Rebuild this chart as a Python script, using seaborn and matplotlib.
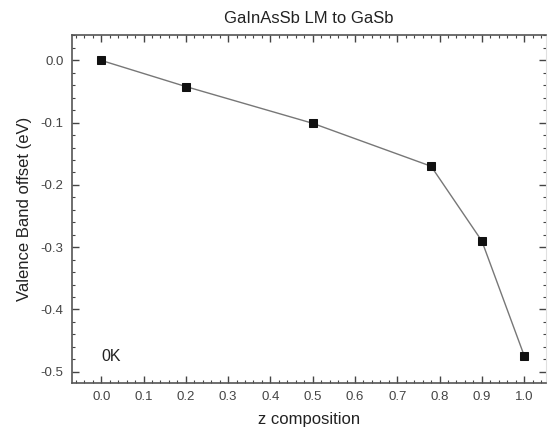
import matplotlib
matplotlib.use("Agg")
import matplotlib.pyplot as plt
import pandas as pd
import seaborn as sns
from matplotlib.ticker import MultipleLocator, FormatStrFormatter

# Data
z_composition = [0.0, 0.2, 0.5, 0.78, 0.9, 1.0]
vbo = [0.0, -0.042, -0.101, -0.170, -0.290, -0.474]

df = pd.DataFrame({"z": z_composition, "vbo": vbo})

sns.set_theme(style="ticks")
plt.rcParams['font.family'] = ['Liberation Sans', 'DejaVu Sans']

fig = plt.figure(figsize=(5.5, 4.36), dpi=100)
ax = fig.add_axes([0.131, 0.1216, 0.862, 0.797])

sns.lineplot(data=df, x="z", y="vbo", ax=ax, color="#777777", linewidth=1.0,
             marker="s", markersize=6, markerfacecolor="#111111",
             markeredgecolor="#111111")

ax.set_xlim(-0.069, 1.052)
ax.set_ylim(-0.518, 0.04)
ax.xaxis.set_major_locator(MultipleLocator(0.1))
ax.xaxis.set_minor_locator(MultipleLocator(0.02))
ax.yaxis.set_major_locator(MultipleLocator(0.1))
ax.yaxis.set_minor_locator(MultipleLocator(0.02))
ax.xaxis.set_major_formatter(FormatStrFormatter("%.1f"))
ax.yaxis.set_major_formatter(FormatStrFormatter("%.1f"))

ax.tick_params(which="major", direction="in", length=5, width=1.0,
               top=True, right=True, labelsize=9.5, colors="#444444", pad=6)
ax.tick_params(which="minor", direction="in", length=2.5, width=0.8,
               top=True, right=True, colors="#444444")

# the right edge of the frame is barely visible in the original scan
for tick in ax.yaxis.get_major_ticks() + ax.yaxis.get_minor_ticks():
    tick.tick2line.set_color("#cccccc")

for side in ["left", "bottom", "top"]:
    ax.spines[side].set_color("#555555")
    ax.spines[side].set_linewidth(1.2)
ax.spines["right"].set_color("#e0e0e0")
ax.spines["right"].set_linewidth(0.8)

ax.set_xlabel("z composition", fontsize=12, color="#222222", labelpad=6)
ax.set_ylabel("Valence Band offset (eV)", fontsize=12, color="#222222", labelpad=6)
ax.set_title("GaInAsSb LM to GaSb", fontsize=12, color="#222222", pad=9)

ax.text(0.0, -0.475, "0K", fontsize=11.5, color="#222222", ha="left", va="center")

fig.savefig("out.png", dpi=100)
